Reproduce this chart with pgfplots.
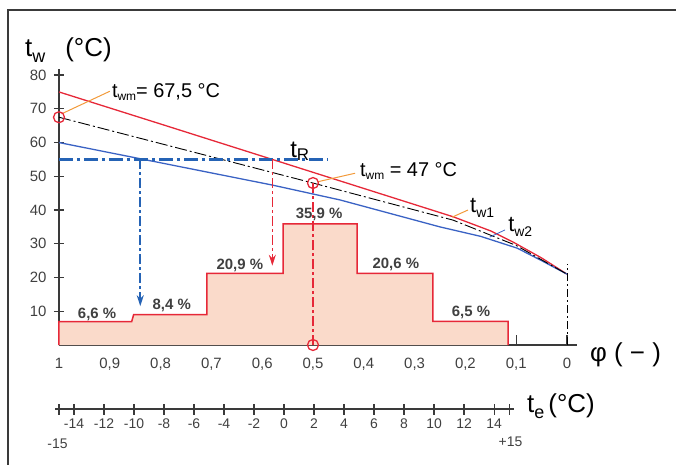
\documentclass[border=0pt]{standalone}
\usepackage{pgfplots}
\pgfplotsset{compat=1.18}
\usepackage{fontspec}
\setmainfont{Liberation Sans}
\usetikzlibrary{arrows.meta}

\definecolor{rline}{HTML}{E62838}
\definecolor{bline}{HTML}{3A62C4}
\definecolor{tRc}{HTML}{2563B5}
\definecolor{histc}{HTML}{FADACA}
\definecolor{leadc}{HTML}{F29A3A}
\definecolor{axisc}{HTML}{3A3A3A}
\definecolor{labc}{HTML}{404040}

\newcommand{\fs}[1]{\fontsize{#1}{#1}\selectfont}

\begin{document}
\begin{tikzpicture}
\useasboundingbox (-59bp,-120bp) rectangle (617bp,345bp);
\draw[axisc, line width=1.3bp] (-51bp,-120bp) -- (-51bp,335bp) -- (617bp,335bp);

\begin{axis}[
    at={(0,0)}, anchor=south west,
    scale only axis, width=518bp, height=276bp,
    x dir=reverse, xmin=-0.0197, xmax=1, ymin=0, ymax=81.8,
    axis x line=bottom, axis y line=left,
    axis line style={-, line width=1.5bp, axisc},
    tick align=inside, major tick length=10bp,
    tick style={line width=1.3bp, axisc},
    y tick style={xshift=-5bp},
    xtick={0,0.1,0.2,0.3,0.4,0.5,0.6,0.7,0.8,0.9,1},
    xticklabels={0,{0,1},{0,2},{0,3},{0,4},{0,5},{0,6},{0,7},{0,8},{0,9},1},
    ytick={10,20,30,40,50,60,70,80},
    tick label style={font=\fs{15}, labc},
    xticklabel style={yshift=-10bp},
    yticklabel style={xshift=-9bp},
    /pgf/number format/assume math mode=true,
    clip=false,
]
% histogram of the hours per outdoor temperature band
\addplot[fill=histc, draw=rline, line width=1.5bp] coordinates {
  (1,0)(1,6.9)(0.857,6.9)(0.853,9.0)(0.709,9.0)(0.709,21.2)(0.559,21.2)(0.559,35.9)
  (0.413,35.9)(0.413,21.2)(0.264,21.2)(0.264,7.0)(0.116,7.0)(0.116,0)};

% t_w1 (red)
\addplot[rline, line width=1.3bp] coordinates {
  (1,75)(0.8,65.5)(0.58,55)(0.4,46.4)(0.224,38)(0.15,33.8)(0.106,30.5)(0.05,25.8)(0,21)};
% t_w2 (blue)
\addplot[bline, line width=1.3bp] coordinates {
  (1,60)(0.58,47.4)(0.447,43)(0.25,35)(0.17,32.2)(0.098,28.7)(0.05,25)(0,21)};
% t_wm (black dash-dot)
\addplot[black, line width=0.9bp, dash pattern=on 12bp off 3bp on 2bp off 3bp] coordinates {
  (1,67.5)(0.5,48)(0.224,37)(0.1,29.5)(0,21)};

% t_R line and the arrows
\addplot[tRc, line width=3bp, dash pattern=on 14bp off 4bp on 3bp off 4bp] coordinates {(1,55)(0.47,55)};
\addplot[tRc, line width=1.6bp, dash pattern=on 10bp off 3bp on 3bp off 3bp,
  -{Stealth[length=11bp,width=7bp]}] coordinates {(0.84,55)(0.84,11.5)};
\addplot[rline, line width=1.6bp, dash pattern=on 10bp off 3bp on 3bp off 3bp,
  -{Stealth[length=11bp,width=7bp]}] coordinates {(0.58,55)(0.58,23.5)};
\addplot[rline, line width=1.8bp, dash pattern=on 10bp off 3bp on 3bp off 3bp] coordinates {(0.5,48)(0.5,0)};
\addplot[black, line width=0.8bp, dash pattern=on 8bp off 3bp on 2bp off 3bp] coordinates {(0,0)(0,24)};

% circles
\addplot[only marks, mark=o, mark size=5.5bp, mark options={rline, line width=1.3bp}]
  coordinates {(1,67.5)(0.5,48)(0.5,0)};

% leader lines
\addplot[leadc, line width=1bp] coordinates {(0.995,68.5)(0.9,75.2)};
\addplot[leadc, line width=1bp] coordinates {(0.49,48.4)(0.4173,50.9)};
\addplot[leadc, line width=1bp] coordinates {(0.226,37.9)(0.195,40)};
\addplot[bline, line width=0.8bp] coordinates {(0.152,32)(0.122,34.1)};

% labels
\node[anchor=base west, inner sep=0pt] at (axis cs:0.896,73.5)
  {\fs{20}t\raisebox{-3bp}{\fs{12}wm}= 67,5 °C};
\node[anchor=base west, inner sep=0pt] at (axis cs:0.4075,49.9)
  {\fs{20}t\raisebox{-3bp}{\fs{12}wm} = 47 °C};
\node[anchor=base west, inner sep=0pt] at (axis cs:0.545,55.7)
  {\fs{24}t\raisebox{-3bp}{\fs{17}R}};
\node[anchor=base west, inner sep=0pt] at (axis cs:0.191,39.4)
  {\fs{22}t\raisebox{-5bp}{\fs{14}w1}};
\node[anchor=base west, inner sep=0pt] at (axis cs:0.116,33.5)
  {\fs{22}t\raisebox{-5bp}{\fs{14}w2}};

\node[anchor=base, inner sep=0pt, font=\fs{15}\bfseries, labc] at (axis cs:0.925,8) {6,6 \%};
\node[anchor=base, inner sep=0pt, font=\fs{15}\bfseries, labc] at (axis cs:0.778,10.4) {8,4 \%};
\node[anchor=base, inner sep=0pt, font=\fs{15}\bfseries, labc] at (axis cs:0.644,22.5) {20,9 \%};
\node[anchor=base, inner sep=0pt, font=\fs{15}\bfseries, labc] at (axis cs:0.488,37.6) {35,9 \%};
\node[anchor=base, inner sep=0pt, font=\fs{15}\bfseries, labc] at (axis cs:0.337,22.8) {20,6 \%};
\node[anchor=base, inner sep=0pt, font=\fs{15}\bfseries, labc] at (axis cs:0.189,8.3) {6,5 \%};
\end{axis}

% axis titles
\node[anchor=base west, inner sep=0pt] at (-34bp,288bp)
  {\fs{26}t\raisebox{-6bp}{\fs{18}w}\hspace{20bp}(°C)};
\node[anchor=base west, inner sep=0pt] at (531bp,-16bp) {\fs{26}φ ( − )};
\node[anchor=base west, inner sep=0pt] at (468bp,-67bp)
  {\fs{26}t\raisebox{-6bp}{\fs{18}e}\hspace{4bp}(°C)};

% outdoor temperature scale
\begin{axis}[
    at={(-4bp,-64bp)}, anchor=south west,
    scale only axis, width=459bp, height=10bp,
    xmin=-15.267, xmax=15.33, ymin=0, ymax=1,
    axis x line=bottom, hide y axis,
    axis line style={-, line width=1.3bp, axisc},
    tick align=center, major tick length=11bp,
    tick style={line width=1.1bp, axisc},
    xtick={-15,-14,-12,-10,-8,-6,-4,-2,0,2,4,6,8,10,12,14,15},
    xticklabels={,-14,-12,-10,-8,-6,-4,-2,0,2,4,6,8,10,12,14,},
    tick label style={font=\fs{14}, labc},
    xticklabel style={yshift=-1bp},
    clip=false,
]
\node[font=\fs{14}, labc] at (axis cs:-15.1,0) [yshift=-35bp] {-15};
\node[font=\fs{14}, labc] at (axis cs:15.1,0) [yshift=-33bp] {+15};
\end{axis}
\end{tikzpicture}
\end{document}
